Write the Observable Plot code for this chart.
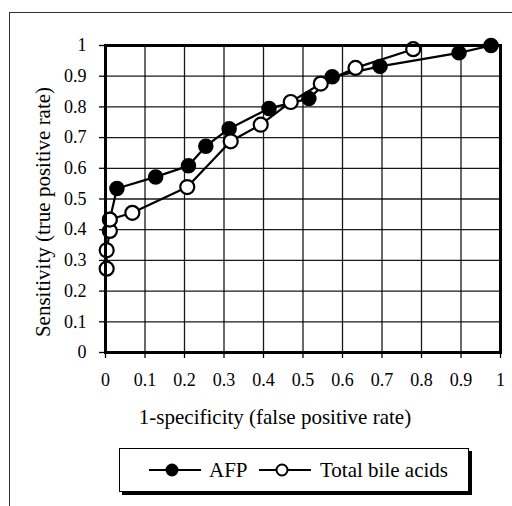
<!DOCTYPE html>
<html>
<head>
<meta charset="utf-8">
<script src="https://cdn.jsdelivr.net/npm/d3@7"></script>
<script src="https://cdn.jsdelivr.net/npm/@observablehq/plot@0.6"></script>
<style>
  html, body { margin: 0; padding: 0; background: white; overflow: hidden; }
  body { width: 512px; height: 506px; position: relative; font-family: "Liberation Serif", "Times New Roman", serif; color: black; }
  #outer { position: absolute; left: 9px; top: 12px; width: 700px; height: 700px; border: 1px solid #333; box-sizing: border-box; }
  #chart { position: absolute; left: 0; top: 0; }
  .title { position: absolute; white-space: nowrap; font-size: 21px; line-height: 24px; }
  #ytitle { left: 43px; top: 212px; transform: translate(-50%, -50%) rotate(-90deg); }
  #xtitle { left: 275px; top: 417px; transform: translate(-50%, -50%); }
  #legend { position: absolute; left: 119px; top: 448px; width: 350px; height: 44px; border: 1px solid black; box-shadow: 3px 3px 0 black; background: white; font-size: 21px; box-sizing: border-box; }
  #legend svg { position: absolute; top: 11px; display: block; }
  #legend span { position: absolute; top: 9px; line-height: 24px; white-space: nowrap; }
</style>
</head>
<body>
<div id="outer"></div>
<div id="chart"></div>
<div class="title" id="ytitle">Sensitivity (true positive rate)</div>
<div class="title" id="xtitle">1-specificity (false positive rate)</div>
<div id="legend"></div>
<script>
// Series names
const seriesNames = ["AFP", "Total bile acids"];

// AFP (filled markers)
const afpX = [0.011, 0.029, 0.127, 0.210, 0.254, 0.313, 0.414, 0.515, 0.574, 0.695, 0.895, 0.976];
const afpY = [0.433, 0.534, 0.572, 0.608, 0.672, 0.729, 0.795, 0.827, 0.898, 0.932, 0.976, 1.000];

// Total bile acids (open markers)
const tbaX = [0.003, 0.003, 0.011, 0.011, 0.068, 0.207, 0.317, 0.393, 0.469, 0.545, 0.633, 0.779];
const tbaY = [0.273, 0.333, 0.396, 0.433, 0.455, 0.539, 0.688, 0.742, 0.816, 0.876, 0.927, 0.988];

// Tick values / labels
const xTicks = [0, 0.1, 0.2, 0.3, 0.4, 0.5, 0.6, 0.7, 0.8, 0.9, 1];
const yTicks = [0, 0.1, 0.2, 0.3, 0.4, 0.5, 0.6, 0.7, 0.8, 0.9, 1];
const xTickLabels = ["0", "0.1", "0.2", "0.3", "0.4", "0.5", "0.6", "0.7", "0.8", "0.9", "1"];
const yTickLabels = ["0", "0.1", "0.2", "0.3", "0.4", "0.5", "0.6", "0.7", "0.8", "0.9", "1"];

const afp = afpX.map((x, i) => ({x, y: afpY[i]}));
const tba = tbaX.map((x, i) => ({x, y: tbaY[i]}));

const plot = Plot.plot({
  width: 512,
  height: 506,
  marginLeft: 105,
  marginRight: 12,
  marginTop: 45,
  marginBottom: 154,
  style: {fontFamily: "Liberation Serif, serif", fontSize: "18px", color: "black", background: "transparent", overflow: "visible"},
  x: {domain: [0, 1]},
  y: {domain: [0, 1]},
  marks: [
    Plot.gridX(xTicks, {stroke: "black", strokeOpacity: 0.9, strokeWidth: 1.3}),
    Plot.gridY(yTicks, {stroke: "black", strokeOpacity: 0.9, strokeWidth: 1.3}),
    Plot.axisX(xTicks, {tickSize: 6, tickPadding: 15, label: null, strokeWidth: 1.3, tickFormat: (d, i) => xTickLabels[i]}),
    Plot.axisY(yTicks, {tickSize: 6, tickPadding: 13, label: null, strokeWidth: 1.3, tickFormat: (d, i) => yTickLabels[i]}),
    Plot.line(afp, {x: "x", y: "y", stroke: "black", strokeWidth: 2.2}),
    Plot.dot(afp, {x: "x", y: "y", r: 7, fill: "black", stroke: "black"}),
    Plot.line(tba, {x: "x", y: "y", stroke: "black", strokeWidth: 2.2}),
    Plot.dot(tba, {x: "x", y: "y", r: 7, fill: "white", stroke: "black", strokeWidth: 2.2}),
    Plot.frame({stroke: "black", strokeWidth: 3})
  ]
});
document.getElementById("chart").appendChild(plot);

// Legend (positions relative to legend box)
const legend = document.getElementById("legend");
const fills = ["black", "white"];
const symbolLeft = [28, 138];
const textLeft = [89, 200];
seriesNames.forEach((name, i) => {
  const svg = d3.create("svg").attr("width", 54).attr("height", 20).style("left", symbolLeft[i] + "px");
  svg.append("line").attr("x1", 1).attr("x2", 53).attr("y1", 10).attr("y2", 10).attr("stroke", "black").attr("stroke-width", 2);
  svg.append("circle").attr("cx", 24).attr("cy", 10).attr("r", 5.5).attr("fill", fills[i]).attr("stroke", "black").attr("stroke-width", 2);
  legend.appendChild(svg.node());
  const t = document.createElement("span");
  t.textContent = name;
  t.style.left = textLeft[i] + "px";
  legend.appendChild(t);
});
</script>
</body>
</html>
